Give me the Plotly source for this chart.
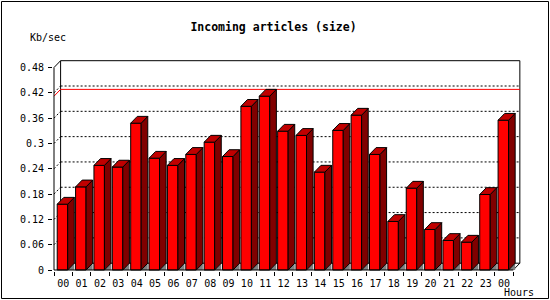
import plotly.graph_objects as go

# ---------------- data ----------------
hours = ["00", "01", "02", "03", "04", "05", "06", "07", "08", "09", "10", "11",
         "12", "13", "14", "15", "16", "17", "18", "19", "20", "21", "22", "23", "00"]
values = [0.156, 0.197, 0.248, 0.244, 0.348, 0.265, 0.248, 0.274, 0.303, 0.269,
          0.388, 0.412, 0.329, 0.319, 0.232, 0.331, 0.367, 0.274, 0.115, 0.194,
          0.096, 0.070, 0.066, 0.179, 0.355]
y_ticks = [0, 0.06, 0.12, 0.18, 0.24, 0.30, 0.36, 0.42, 0.48]
y_tick_labels = ["0", "0.06", "0.12", "0.18", "0.24", "0.3", "0.36", "0.42", "0.48"]
title_text = "Incoming articles (size)"
y_title = "Kb/sec"
x_title = "Hours"

# ---------------- geometry ----------------
W, H = 550, 300
PL, PR, PT, PB = 53, 521, 60, 271          # plot area in px
SLOT = 18.37                               # px per category
YPX = 421.875                              # px per unit value
X0 = -0.5 - 1 / SLOT
X1 = X0 + (PR - PL) / SLOT
Y0 = -1 / YPX
Y1 = Y0 + (PB - PT) / YPX
DX = 6.6 / SLOT                            # 3D depth offset (x)
DY = 6.8 / YPX                             # 3D depth offset (y)
BW = 0.57                                  # bar width
BOFF = -0.04                               # bar offset

n = len(values)
xs = list(range(n))
left, right = -0.5, n - 0.5
ymax = y_ticks[-1]
vmax = max(values)

def px_x(p):
    return (p - PL) / (PR - PL)

def px_y(p):
    return (PB - p) / (PB - PT)

shapes = []
def seg(x0, y0, x1, y1, color="black", dash="solid", layer="below"):
    shapes.append(dict(type="line", xref="x", yref="y", x0=x0, y0=y0, x1=x1, y1=y1,
                       line=dict(color=color, width=1, dash=dash), layer=layer))

# back wall grid lines + left wall diagonals
for v in y_ticks[1:-1]:
    seg(left + DX, v + DY, right + DX, v + DY, dash="2px,2px")
    seg(left, v, left + DX, v + DY, dash="2px,2px")
# back wall frame
seg(left + DX, ymax + DY, right + DX, ymax + DY)
seg(left + DX, DY, left + DX, ymax + DY)
seg(right + DX, DY, right + DX, ymax + DY)
seg(left + DX, DY, right + DX, DY)
seg(left, ymax, left + DX, ymax + DY)
seg(right, 0, right + DX, DY)
# max line (red)
seg(left, vmax, left + DX, vmax + DY, color="#FF0000")
seg(left + DX, vmax + DY, right + DX, vmax + DY, color="#FF0000")

# outer border of the image
shapes.append(dict(type="rect", xref="paper", yref="paper",
                   x0=px_x(1.5), x1=px_x(548.5), y0=px_y(298.5), y1=px_y(1.5),
                   line=dict(color="black", width=1), layer="above"))

fig = go.Figure()

# front faces
fig.add_trace(go.Bar(x=[i + BOFF for i in xs], y=values, width=BW,
                     marker=dict(color="#FF0000", line=dict(color="black", width=1)),
                     hoverinfo="skip"))

# floor shadows, side faces and top faces
tx, ty, sx, sy, ux, uy = [], [], [], [], [], []
for i, v in zip(xs, values):
    fl = i + BOFF - BW / 2
    fr = i + BOFF + BW / 2
    tx += [fr, fr + DX, fr + DX, fr, None]
    ty += [0, DY, 0, 0, None]
    sx += [fr, fr + DX, fr + DX, fr, fr, None]
    sy += [0, DY, v + DY, v, 0, None]
    ux += [fl, fr, fr + DX, fl + DX, fl, None]
    uy += [v, v, v + DY, v + DY, v, None]

fig.add_trace(go.Scatter(x=tx, y=ty, mode="lines", fill="toself", fillcolor="#808080",
                         line=dict(width=0, color="#808080"), hoverinfo="skip"))
fig.add_trace(go.Scatter(x=sx, y=sy, mode="lines", fill="toself", fillcolor="#800000",
                         line=dict(width=1, color="black"), hoverinfo="skip"))
fig.add_trace(go.Scatter(x=ux, y=uy, mode="lines", fill="toself", fillcolor="#C00000",
                         line=dict(width=1, color="black"), hoverinfo="skip"))
# front axis lines
fig.add_trace(go.Scatter(x=[left, left, right], y=[ymax, 0, 0], mode="lines",
                         line=dict(width=1, color="black"), hoverinfo="skip"))

mono = "DejaVu Sans Mono"
fig.update_layout(
    width=W, height=H,
    margin=dict(l=PL, r=W - PR, t=PT, b=H - PB, pad=0),
    paper_bgcolor="white", plot_bgcolor="white",
    showlegend=False,
    shapes=shapes,
    title=dict(text=title_text, xref="container", yref="container",
               x=273.5 / W, y=1 - 27 / H, xanchor="center", yanchor="middle",
               font=dict(family=mono, size=11.5, color="black", weight="bold")),
    xaxis=dict(range=[X0, X1], tickmode="array", tickvals=xs, ticktext=hours,
               ticks="", showgrid=False, zeroline=False, showline=False,
               ticklabelstandoff=5,
               tickfont=dict(family=mono, size=10, color="black"),
               minor=dict(tickmode="array", tickvals=[i - 0.5 for i in range(n + 1)],
                          ticks="outside", ticklen=4, tickcolor="black", tickwidth=1,
                          showgrid=False)),
    yaxis=dict(range=[Y0, Y1], tickmode="array", tickvals=y_ticks, ticktext=y_tick_labels,
               ticks="outside", ticklen=4, tickcolor="black", tickwidth=1,
               ticklabelstandoff=2,
               showgrid=False, zeroline=False, showline=False,
               tickfont=dict(family=mono, size=10, color="black")),
    annotations=[
        dict(text=y_title, xref="paper", yref="paper", x=px_x(47.5), y=px_y(37.5),
             xanchor="center", yanchor="middle", showarrow=False,
             font=dict(family=mono, size=10, color="black")),
        dict(text=x_title, xref="paper", yref="paper", x=px_x(519), y=px_y(292),
             xanchor="center", yanchor="middle", showarrow=False,
             font=dict(family=mono, size=10, color="black")),
    ],
)

fig.write_html("out.html")
